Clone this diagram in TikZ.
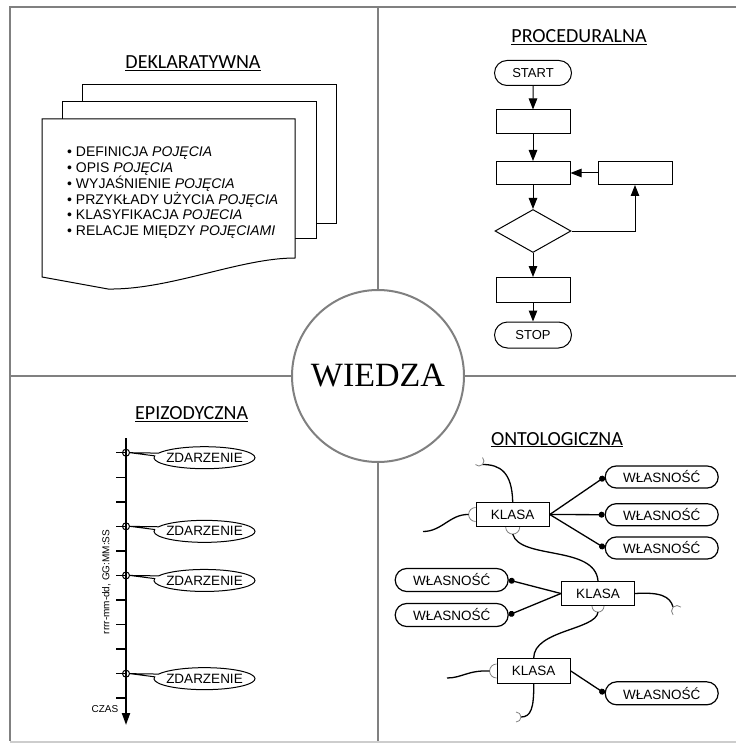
\documentclass[tikz,border=0pt]{standalone}
\usepackage{fontspec}
\setmainfont{Liberation Sans}
\newfontfamily\tytulfont{Carlito}
\newfontfamily\wiedzafont{Liberation Serif}
\usepackage{tikz}
\usetikzlibrary{shapes.geometric, shapes.misc, shapes.callouts, arrows.meta, calc}
\definecolor{cRama}{RGB}{128,128,128}
\definecolor{cDol}{RGB}{205,205,205}
\newcommand{\rozmiar}[2]{\fontsize{#1}{#2}\selectfont}
\tikzset{
	rama/.style={draw=cRama, line width=2pt},
	tytul/.style={anchor=base, font=\tytulfont\rozmiar{20pt}{24pt}},
	strona/.style={draw=black, fill=white, line width=1pt},
	startstop/.style={rounded rectangle, draw=black, line width=1pt, minimum width=77pt, minimum height=25pt, inner sep=0pt, font=\rozmiar{13pt}{15pt}},
	process/.style  ={rectangle, draw=black, line width=1pt, minimum width=74pt, minimum height=24pt, inner sep=0pt},
	decision/.style ={diamond, draw=black, line width=1pt, minimum width=76pt, minimum height=43pt, inner sep=0pt},
	flowarrow/.style={-{Triangle[length=11pt, width=8.5pt]}, line width=1pt},
	% os czasu
	os/.style={-{Triangle[length=12pt, width=8pt]}, line width=2pt},
	znacznik/.style={line width=1.5pt},
	punkt/.style={circle, draw=black, line width=1pt, minimum size=7pt, inner sep=0pt},
	zdarzenie/.style={ellipse callout, draw=black, fill=white, line width=1pt, minimum width=101pt, minimum height=22pt, inner xsep=-3pt, inner ysep=0pt, font=\rozmiar{13.5pt}{15pt}},
	% ontologia
	klasa/.style={rectangle, draw=black, line width=1.2pt, minimum width=73pt, minimum height=24pt, inner sep=0pt, font=\rozmiar{13.5pt}{15pt}},
	cecha/.style={rounded rectangle, draw=black, line width=1.2pt, minimum width=113pt, minimum height=22pt, inner sep=0pt, font=\rozmiar{13.5pt}{15pt}},
	relacja/.style={-{Circle[length=6pt]}, line width=1.3pt},
	krzywa/.style={line width=1.3pt},
	gniazdo/.style={draw=gray, line width=0.8pt},
}

\begin{document}
\begin{tikzpicture}[x=1pt, y=-1pt]
	\useasboundingbox (0,0) rectangle (736,743);
	% ramka i podzial
	\draw[rama] (736,7) -- (10,7) -- (10,741);
	\draw[rama, draw=cDol] (10,741.5) -- (736,741.5);
	\node[circle, draw=cRama, line width=2pt, fill=white, minimum size=172pt, inner sep=0pt,
		font=\wiedzafont\rozmiar{34pt}{40pt}] (wiedza) at (378,376) {WIEDZA};
	\draw[rama] (378,7) -- (wiedza.north);
	\draw[rama] (wiedza.south) -- (378,741);
	\draw[rama] (10,376) -- (wiedza.west);
	\draw[rama] (wiedza.east) -- (736,376);

	% DEKLARATYWNA
	\node[tytul] (tDekl) at (193,69) {\underline{DEKLARATYWNA}};
	\draw[strona] (82,85) rectangle (336,223);
	\draw[strona] (62,102) rectangle (316,238);
	\draw[strona] (42,119) -- (295,119) -- (295,258) .. controls (240,258) and (170,290) .. (108,289) -- (42,277) -- cycle;
	\foreach \t [count=\i from 0] in {DEFINICJA \textit{POJĘCIA}, OPIS \textit{POJĘCIA}, WYJAŚNIENIE \textit{POJĘCIA},
		PRZYKŁADY UŻYCIA \textit{POJĘCIA}, KLASYFIKACJA \textit{POJECIA}, RELACJE MIĘDZY \textit{POJĘCIAMI}}
		\node[anchor=base west, inner sep=0pt, font=\rozmiar{14pt}{16pt}] (lin\i) at (67,{157+15.7*\i}) {\textbullet{} \t};

	% PROCEDURALNA
	\node[tytul] (tProc) at (579,42.7) {\underline{PROCEDURALNA}};
	\node[startstop] (start) at (533,73) {START};
	\node[process] (p1) at (533,122) {};
	\node[process, minimum height=23pt] (p2) at (533,173) {};
	\node[process, minimum height=23pt] (p3) at (635,173) {};
	\node[decision] (dec) at (533,231) {};
	\node[process, minimum height=25pt] (p4) at (533,290) {};
	\node[startstop, minimum height=26pt] (stop) at (533,335) {STOP};
	\draw[flowarrow] (start) -- (p1);
	\draw[flowarrow] (p1) -- (p2);
	\draw[flowarrow] (p2) -- (dec);
	\draw[flowarrow] (dec) -- (p4);
	\draw[flowarrow] (p4) -- (stop);
	\draw[flowarrow] (p3) -- (p2);
	\draw[flowarrow] (dec.east) -| (p3.south);

	% EPIZODYCZNA
	\node[tytul] (tEpi) at (191.7,419.3) {\underline{EPIZODYCZNA}};
	\draw[os] (126,438) -- (126,725);
	\foreach \i in {0,...,10}
		\draw[znacznik] (116,{452.7+24.55*\i}) -- (126,{452.7+24.55*\i});
	\foreach \i/\n in {0/a, 3/b, 5/c, 9/d} {
		\node[punkt] (pt\n) at (126,{452.7+24.55*\i}) {};
		\node[zdarzenie, callout absolute pointer={(pt\n.east)}] (zd\n) at (204.5,{457.7+24.55*\i}) {ZDARZENIE};
	}
	\node[rotate=90, font=\rozmiar{10pt}{12pt}] (format) at (106.5,582) {rrrr-mm-dd, GG:MM:SS};
	\node[font=\rozmiar{10pt}{12pt}] (czas) at (105,709.5) {CZAS};

	% ONTOLOGICZNA
	\node[tytul] (tOnto) at (557,445) {\underline{ONTOLOGICZNA}};
	\node[klasa] (k1) at (512.7,514.5) {KLASA};
	\node[klasa] (k2) at (598,593.5) {KLASA};
	\node[klasa, minimum height=25pt] (k3) at (533.7,671) {KLASA};
	\node[cecha] (c1) at (661.7,477) {WŁASNOŚĆ};
	\node[cecha] (c2) at (661.7,514.7) {WŁASNOŚĆ};
	\node[cecha] (c3) at (661.7,548) {WŁASNOŚĆ};
	\node[cecha, minimum height=23pt] (c4) at (451.7,580) {WŁASNOŚĆ};
	\node[cecha, minimum height=23pt] (c5) at (451.7,615) {WŁASNOŚĆ};
	\node[cecha, minimum height=23pt] (c6) at (661.7,693.3) {WŁASNOŚĆ};
	\draw[relacja] (k1.east) -- (c1.west);
	\draw[relacja] (k1.east) -- (c2.west);
	\draw[relacja] (k1.east) -- (c3.west);
	\draw[relacja] (k2.west) -- (c4.east);
	\draw[relacja] (k2.west) -- (c5.east);
	\draw[relacja] (k3.east) -- (c6.west);
	% gniazda i polaczenia
	\draw[gniazdo] ($(k1.west)+(0,-7)$) arc[start angle=-90, end angle=-270, radius=7];
	\draw[krzywa] ($(k1.west)+(-7,0)$) .. controls (450,514) and (442,531.5) .. (423,531.5);
	\draw[gniazdo] ($(k1.south)+(7,0)$) arc[start angle=0, end angle=180, radius=7];
	\draw[krzywa] ($(k1.south)+(0,7)$) .. controls (520,560) and (595,545) .. (k2.north);
	\draw[krzywa] (k1.north) .. controls (512,472) and (500,464.5) .. (482.5,464.5);
	\draw[gniazdo] (482.5,457.5) arc[start angle=-45, end angle=135, radius=5];
	\draw[krzywa] (k2.east) .. controls (660,592) and (670,596) .. (673.1,607.1);
	\draw[gniazdo] (673.1,614.9) arc[start angle=135, end angle=315, radius=5.5];
	\draw[gniazdo] ($(k2.south)+(6,0)$) arc[start angle=0, end angle=180, radius=6];
	\draw[krzywa] ($(k2.south)+(0,6)$) .. controls (596,630) and (534,630) .. (k3.north);
	\draw[gniazdo] ($(k3.west)+(0,-7)$) arc[start angle=-90, end angle=-270, radius=7];
	\draw[krzywa] ($(k3.west)+(-7,0)$) .. controls (468,670) and (462,678) .. (447,678);
	\draw[krzywa] (k3.south) .. controls (534,708) and (531,717) .. (521,717);
	\draw[gniazdo] (516,712) arc[start angle=-90, end angle=90, radius=5];
\end{tikzpicture}
\end{document}
